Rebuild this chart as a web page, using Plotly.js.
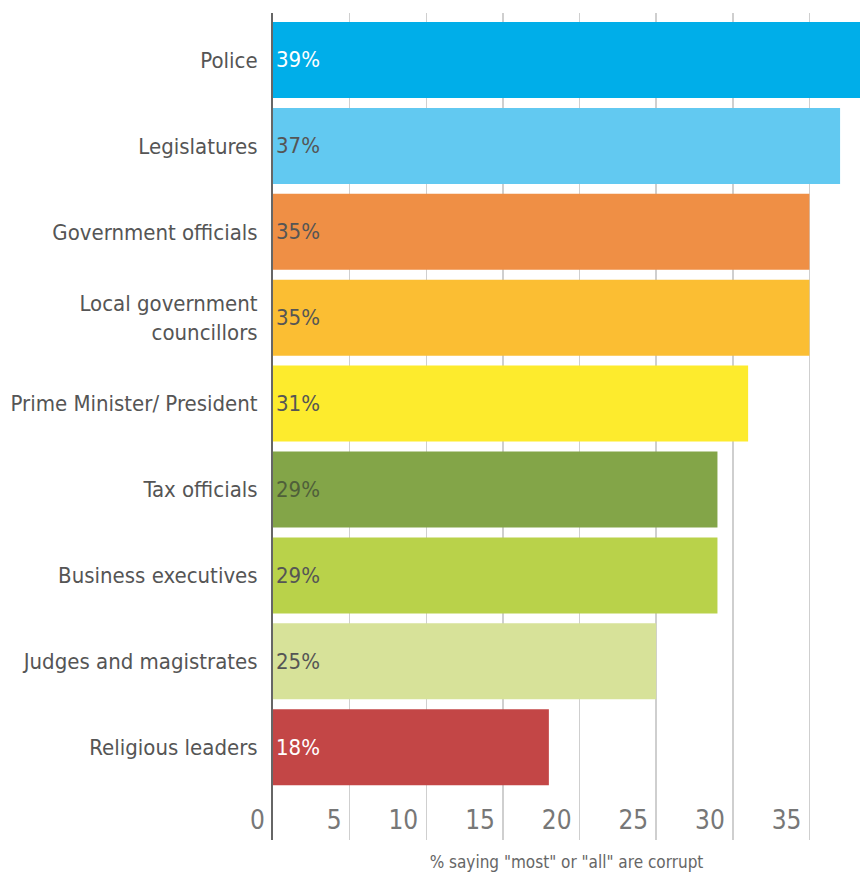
<!DOCTYPE html>
<html>
<head>
<meta charset="utf-8">
<script src="https://cdn.plot.ly/plotly-3.0.1.min.js"></script>
<style>html,body{margin:0;padding:0;background:#fff;}#chart{width:860px;height:873px;}</style>
</head>
<body>
<div id="chart"></div>
<script>
var categories = ["Police", "Legislatures", "Government officials", "Local government<br>councillors", "Prime Minister/ President", "Tax officials", "Business executives", "Judges and magistrates", "Religious leaders"];
var values = [39, 37, 35, 35, 31, 29, 29, 25, 18];
var barColors = ["#00aee9", "#62c9f1", "#ef8f45", "#fbbe33", "#fdeb2d", "#83a548", "#b9d24a", "#d7e299", "#c34646"];
var labelColors = ["#ffffff", "#555555", "#555555", "#555555", "#555555", "#4f5f3a", "#555555", "#555555", "#ffffff"];
var xTicks = [0, 5, 10, 15, 20, 25, 30, 35];
var xTitle = '% saying "most" or "all" are corrupt';

var FONT = "'Liberation Sans Narrow', 'Arial Narrow', 'DejaVu Sans Condensed', sans-serif";

var trace = {
  type: 'bar',
  orientation: 'h',
  y: categories,
  x: values,
  marker: {color: barColors},
  text: values.map(function(v){ return v + '%'; }),
  textposition: 'inside',
  insidetextanchor: 'start',
  textangle: 0,
  textfont: {family: FONT, size: 22, color: labelColors},
  hoverinfo: 'none',
  cliponaxis: true
};

var layout = {
  width: 860,
  height: 873,
  margin: {l: 273, r: 0, t: 13, b: 33},
  paper_bgcolor: '#ffffff',
  plot_bgcolor: '#ffffff',
  bargap: 0.115,
  showlegend: false,
  font: {family: FONT, color: '#555555'},
  xaxis: {
    range: [0, 38.3],
    tickvals: xTicks,
    ticktext: xTicks.map(String),
    showgrid: true,
    gridcolor: '#cfcfcf',
    gridwidth: 1.5,
    zeroline: false,
    showline: false,
    ticks: '',
    ticklabelposition: 'inside left',
    ticklabeloverflow: 'allow',
    ticklabelshift: -8,
    tickfont: {family: FONT, size: 26, color: '#777777'},
    automargin: false,
    title: {text: xTitle, font: {family: FONT, size: 17, color: '#666666'}, standoff: 22}
  },
  yaxis: {
    type: 'category',
    range: [9.08, -0.547],
    showgrid: false,
    zeroline: false,
    showline: true,
    linecolor: '#666666',
    linewidth: 2,
    ticks: '',
    ticklabelstandoff: 9,
    tickfont: {family: FONT, size: 22, color: '#555555'},
    automargin: false
  }
};

Plotly.newPlot('chart', [trace], layout, {displayModeBar: false, staticPlot: true});
</script>
</body>
</html>
